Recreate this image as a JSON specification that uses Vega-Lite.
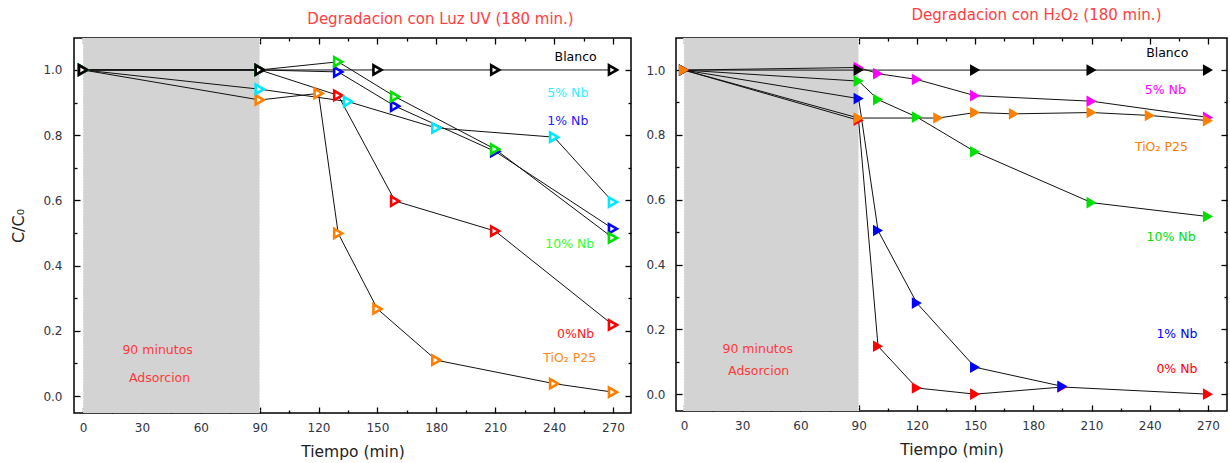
{
  "$schema": "https://vega.github.io/schema/vega-lite/v6.json",
  "background": "white",
  "padding": {"left": 10, "top": 7, "right": 0, "bottom": 0},
  "spacing": 12,
  "datasets": {
    "shade": [{"a": 0, "b": 90}],
    "edges": [{"a": 0}, {"a": 90}],
    "uv": [
      {"series": "TiO2 P25", "t": 0, "c": 1.0},
      {"series": "TiO2 P25", "t": 90, "c": 0.908},
      {"series": "TiO2 P25", "t": 120, "c": 0.928},
      {"series": "TiO2 P25", "t": 130, "c": 0.499},
      {"series": "TiO2 P25", "t": 150, "c": 0.267},
      {"series": "TiO2 P25", "t": 180, "c": 0.11},
      {"series": "TiO2 P25", "t": 240, "c": 0.038},
      {"series": "TiO2 P25", "t": 270, "c": 0.012},
      {"series": "0% Nb", "t": 0, "c": 1.0},
      {"series": "0% Nb", "t": 90, "c": 1.0},
      {"series": "0% Nb", "t": 130, "c": 0.922},
      {"series": "0% Nb", "t": 159, "c": 0.598},
      {"series": "0% Nb", "t": 210, "c": 0.506},
      {"series": "0% Nb", "t": 270, "c": 0.218},
      {"series": "5% Nb", "t": 0, "c": 1.0},
      {"series": "5% Nb", "t": 90, "c": 0.941},
      {"series": "5% Nb", "t": 135, "c": 0.903},
      {"series": "5% Nb", "t": 180, "c": 0.822},
      {"series": "5% Nb", "t": 240, "c": 0.794},
      {"series": "5% Nb", "t": 270, "c": 0.595},
      {"series": "1% Nb", "t": 0, "c": 1.0},
      {"series": "1% Nb", "t": 90, "c": 1.0},
      {"series": "1% Nb", "t": 130, "c": 0.994},
      {"series": "1% Nb", "t": 159, "c": 0.889},
      {"series": "1% Nb", "t": 210, "c": 0.75},
      {"series": "1% Nb", "t": 270, "c": 0.513},
      {"series": "10% Nb", "t": 0, "c": 1.0},
      {"series": "10% Nb", "t": 90, "c": 1.0},
      {"series": "10% Nb", "t": 130, "c": 1.025},
      {"series": "10% Nb", "t": 159, "c": 0.918},
      {"series": "10% Nb", "t": 210, "c": 0.757},
      {"series": "10% Nb", "t": 270, "c": 0.485},
      {"series": "Blanco", "t": 0, "c": 1.0},
      {"series": "Blanco", "t": 90, "c": 1.0},
      {"series": "Blanco", "t": 150, "c": 1.0},
      {"series": "Blanco", "t": 210, "c": 1.0},
      {"series": "Blanco", "t": 270, "c": 1.0}
    ],
    "uvLabels": [
      {"series": "Blanco", "label": "Blanco", "t": 251, "c": 1.04},
      {"series": "5% Nb", "label": "5% Nb", "t": 247, "c": 0.929},
      {"series": "1% Nb", "label": "1% Nb", "t": 247, "c": 0.844},
      {"series": "10% Nb", "label": "10% Nb", "t": 248, "c": 0.466},
      {"series": "0% Nb", "label": "0%Nb", "t": 251, "c": 0.19},
      {"series": "TiO2 P25", "label": "TiO₂ P25", "t": 248, "c": 0.117},
      {"series": "nota", "label": "90 minutos", "t": 38, "c": 0.141},
      {"series": "nota", "label": "Adsorcion", "t": 39, "c": 0.056}
    ],
    "h2o2": [
      {"series": "10% Nb", "t": 0, "c": 1.0},
      {"series": "10% Nb", "t": 90, "c": 0.966},
      {"series": "10% Nb", "t": 100, "c": 0.909},
      {"series": "10% Nb", "t": 120, "c": 0.855},
      {"series": "10% Nb", "t": 150, "c": 0.748},
      {"series": "10% Nb", "t": 210, "c": 0.591},
      {"series": "10% Nb", "t": 270, "c": 0.548},
      {"series": "5% Nb", "t": 0, "c": 1.0},
      {"series": "5% Nb", "t": 90, "c": 1.008},
      {"series": "5% Nb", "t": 100, "c": 0.989},
      {"series": "5% Nb", "t": 120, "c": 0.971},
      {"series": "5% Nb", "t": 150, "c": 0.921},
      {"series": "5% Nb", "t": 210, "c": 0.904},
      {"series": "5% Nb", "t": 270, "c": 0.854},
      {"series": "0% Nb", "t": 0, "c": 1.0},
      {"series": "0% Nb", "t": 90, "c": 0.845},
      {"series": "0% Nb", "t": 100, "c": 0.148},
      {"series": "0% Nb", "t": 120, "c": 0.019},
      {"series": "0% Nb", "t": 150, "c": 0.0},
      {"series": "0% Nb", "t": 195, "c": 0.022},
      {"series": "0% Nb", "t": 270, "c": 0.0},
      {"series": "1% Nb", "t": 0, "c": 1.0},
      {"series": "1% Nb", "t": 90, "c": 0.912},
      {"series": "1% Nb", "t": 100, "c": 0.505},
      {"series": "1% Nb", "t": 120, "c": 0.281},
      {"series": "1% Nb", "t": 150, "c": 0.083},
      {"series": "1% Nb", "t": 195, "c": 0.024},
      {"series": "Blanco", "t": 0, "c": 1.0},
      {"series": "Blanco", "t": 90, "c": 1.0},
      {"series": "Blanco", "t": 150, "c": 1.0},
      {"series": "Blanco", "t": 210, "c": 1.0},
      {"series": "Blanco", "t": 270, "c": 1.0},
      {"series": "TiO2 P25", "t": 0, "c": 1.0},
      {"series": "TiO2 P25", "t": 90, "c": 0.852},
      {"series": "TiO2 P25", "t": 131, "c": 0.852},
      {"series": "TiO2 P25", "t": 150, "c": 0.869},
      {"series": "TiO2 P25", "t": 170, "c": 0.865},
      {"series": "TiO2 P25", "t": 210, "c": 0.869},
      {"series": "TiO2 P25", "t": 240, "c": 0.86},
      {"series": "TiO2 P25", "t": 270, "c": 0.844}
    ],
    "h2o2Labels": [
      {"series": "Blanco", "label": "Blanco", "t": 249, "c": 1.054},
      {"series": "5% Nb", "label": "5% Nb", "t": 248, "c": 0.937},
      {"series": "TiO2 P25", "label": "TiO₂ P25", "t": 246, "c": 0.762},
      {"series": "10% Nb", "label": "10% Nb", "t": 251, "c": 0.484},
      {"series": "1% Nb", "label": "1% Nb", "t": 254, "c": 0.185},
      {"series": "0% Nb", "label": "0% Nb", "t": 254, "c": 0.077},
      {"series": "nota", "label": "90 minutos", "t": 38, "c": 0.139},
      {"series": "nota", "label": "Adsorcion", "t": 38.5, "c": 0.071}
    ]
  },
  "hconcat": [
    {
      "width": 557,
      "height": 375,
      "title": {"text": "Degradacion con Luz UV (180 min.)", "font": "DejaVu Sans", "fontSize": 15, "fontWeight": "normal", "color": "#ff4040", "anchor": "middle", "dx": 88, "offset": 10},
      "layer": [
        {
          "data": {"name": "shade"},
          "mark": {"type": "rect", "color": "#d3d3d3"},
          "encoding": {
            "x": {"field": "a", "type": "quantitative", "scale": {"domain": [-4.6, 279.2], "nice": false, "zero": false},
                  "axis": {"orient": "top", "values": [15, 45, 75, 105, 135, 165, 195, 225, 255], "offset": -3, "tickSize": 3, "labels": false, "title": null}},
            "x2": {"field": "b"},
            "y": {"datum": 1.098, "type": "quantitative", "scale": {"domain": [-0.052, 1.098], "nice": false, "zero": false},
                  "axis": {"orient": "right", "values": [0.1, 0.3, 0.5, 0.7, 0.9], "offset": -3, "tickSize": 3, "labels": false, "title": null}},
            "y2": {"datum": -0.052}
          }
        },
        {
          "data": {"name": "edges"},
          "mark": {"type": "rule", "color": "#f4f4f4", "strokeDash": [1, 2], "strokeWidth": 1.2},
          "encoding": {
            "x": {"field": "a", "type": "quantitative", "scale": {"domain": [-4.6, 279.2], "nice": false, "zero": false},
                  "axis": {"orient": "top", "values": [0, 30, 60, 90, 120, 150, 180, 210, 240, 270], "offset": -6, "tickSize": 6, "labels": false, "title": null}},
            "y": {"datum": 1.098, "type": "quantitative", "scale": {"domain": [-0.052, 1.098], "nice": false, "zero": false},
                  "axis": {"orient": "right", "values": [0, 0.2, 0.4, 0.6, 0.8, 1.0], "offset": -6, "tickSize": 6, "labels": false, "title": null}},
            "y2": {"datum": -0.052}
          }
        },
        {
          "data": {"name": "uv"},
          "mark": {"type": "line", "color": "#111111", "strokeWidth": 1},
          "encoding": {
            "x": {"field": "t", "type": "quantitative", "scale": {"domain": [-4.6, 279.2], "nice": false, "zero": false},
                  "axis": {"orient": "bottom", "values": [0, 30, 60, 90, 120, 150, 180, 210, 240, 270], "ticks": false, "labelPadding": 9, "title": "Tiempo (min)", "titleFontSize": 15.5, "titlePadding": 11}},
            "y": {"field": "c", "type": "quantitative", "scale": {"domain": [-0.052, 1.098], "nice": false, "zero": false},
                  "axis": {"orient": "left", "values": [0, 0.2, 0.4, 0.6, 0.8, 1.0], "format": ".1f", "ticks": false, "labelPadding": 12, "title": "C/C₀", "titleFontSize": 16, "titlePadding": 16}},
            "detail": {"field": "series"}
          }
        },
        {
          "data": {"name": "uv"},
          "mark": {"type": "point", "shape": "triangle-right", "size": 85, "fill": "white", "fillOpacity": 1, "strokeWidth": 2.6, "opacity": 1},
          "encoding": {
            "x": {"field": "t", "type": "quantitative", "scale": {"domain": [-4.6, 279.2], "nice": false, "zero": false},
                  "axis": {"orient": "bottom", "values": [0, 30, 60, 90, 120, 150, 180, 210, 240, 270], "offset": -6, "tickSize": 6, "labels": false, "title": null}},
            "y": {"field": "c", "type": "quantitative", "scale": {"domain": [-0.052, 1.098], "nice": false, "zero": false},
                  "axis": {"orient": "left", "values": [0, 0.2, 0.4, 0.6, 0.8, 1.0], "offset": -6, "tickSize": 6, "labels": false, "title": null}},
            "stroke": {"field": "series", "type": "nominal", "legend": null,
                       "scale": {"domain": ["Blanco", "0% Nb", "1% Nb", "5% Nb", "10% Nb", "TiO2 P25", "nota"], "range": ["#000000", "#ff0000", "#0000ff", "#00e8ff", "#00e000", "#ff8000", "#ff3a3a"]}}
          }
        },
        {
          "data": {"name": "uvLabels"},
          "mark": {"type": "text", "font": "DejaVu Sans", "fontSize": 12.5, "align": "center", "baseline": "middle"},
          "encoding": {
            "x": {"field": "t", "type": "quantitative", "scale": {"domain": [-4.6, 279.2], "nice": false, "zero": false},
                  "axis": {"orient": "bottom", "values": [15, 45, 75, 105, 135, 165, 195, 225, 255], "offset": -3, "tickSize": 3, "labels": false, "title": null}},
            "y": {"field": "c", "type": "quantitative", "scale": {"domain": [-0.052, 1.098], "nice": false, "zero": false},
                  "axis": {"orient": "left", "values": [0.1, 0.3, 0.5, 0.7, 0.9], "offset": -3, "tickSize": 3, "labels": false, "title": null}},
            "text": {"field": "label"},
            "color": {"field": "series", "type": "nominal", "legend": null,
                      "scale": {"domain": ["Blanco", "0% Nb", "1% Nb", "5% Nb", "10% Nb", "TiO2 P25", "nota"], "range": ["#000000", "#ff2020", "#2020ff", "#30f0ff", "#30ff30", "#ff8c1a", "#ff3a3a"]}}
          }
        }
      ],
      "resolve": {"axis": {"x": "independent", "y": "independent"}}
    },
    {
      "width": 551,
      "height": 373,
      "title": {"text": "Degradacion con H₂O₂ (180 min.)", "font": "DejaVu Sans", "fontSize": 15, "fontWeight": "normal", "color": "#ff4040", "anchor": "middle", "dx": 85, "offset": 14},
      "layer": [
        {
          "data": {"name": "shade"},
          "mark": {"type": "rect", "color": "#d3d3d3"},
          "encoding": {
            "x": {"field": "a", "type": "quantitative", "scale": {"domain": [-4.1, 279.8], "nice": false, "zero": false},
                  "axis": {"orient": "top", "values": [15, 45, 75, 105, 135, 165, 195, 225, 255], "offset": -3, "tickSize": 3, "labels": false, "title": null}},
            "x2": {"field": "b"},
            "y": {"datum": 1.099, "type": "quantitative", "scale": {"domain": [-0.052, 1.099], "nice": false, "zero": false},
                  "axis": {"orient": "right", "values": [0.1, 0.3, 0.5, 0.7, 0.9], "offset": -3, "tickSize": 3, "labels": false, "title": null}},
            "y2": {"datum": -0.052}
          }
        },
        {
          "data": {"name": "edges"},
          "mark": {"type": "rule", "color": "#f4f4f4", "strokeDash": [1, 2], "strokeWidth": 1.2},
          "encoding": {
            "x": {"field": "a", "type": "quantitative", "scale": {"domain": [-4.1, 279.8], "nice": false, "zero": false},
                  "axis": {"orient": "top", "values": [0, 30, 60, 90, 120, 150, 180, 210, 240, 270], "offset": -6, "tickSize": 6, "labels": false, "title": null}},
            "y": {"datum": 1.099, "type": "quantitative", "scale": {"domain": [-0.052, 1.099], "nice": false, "zero": false},
                  "axis": {"orient": "right", "values": [0, 0.2, 0.4, 0.6, 0.8, 1.0], "offset": -6, "tickSize": 6, "labels": false, "title": null}},
            "y2": {"datum": -0.052}
          }
        },
        {
          "data": {"name": "h2o2"},
          "mark": {"type": "line", "color": "#111111", "strokeWidth": 1},
          "encoding": {
            "x": {"field": "t", "type": "quantitative", "scale": {"domain": [-4.1, 279.8], "nice": false, "zero": false},
                  "axis": {"orient": "bottom", "values": [0, 30, 60, 90, 120, 150, 180, 210, 240, 270], "ticks": false, "labelPadding": 9, "title": "Tiempo (min)", "titleFontSize": 15.5, "titlePadding": 11}},
            "y": {"field": "c", "type": "quantitative", "scale": {"domain": [-0.052, 1.099], "nice": false, "zero": false},
                  "axis": {"orient": "left", "values": [0, 0.2, 0.4, 0.6, 0.8, 1.0], "format": ".1f", "ticks": false, "labelPadding": 11, "title": null}},
            "detail": {"field": "series"}
          }
        },
        {
          "data": {"name": "h2o2"},
          "mark": {"type": "point", "shape": "triangle-right", "size": 135, "filled": true, "opacity": 1},
          "encoding": {
            "x": {"field": "t", "type": "quantitative", "scale": {"domain": [-4.1, 279.8], "nice": false, "zero": false},
                  "axis": {"orient": "bottom", "values": [0, 30, 60, 90, 120, 150, 180, 210, 240, 270], "offset": -6, "tickSize": 6, "labels": false, "title": null}},
            "y": {"field": "c", "type": "quantitative", "scale": {"domain": [-0.052, 1.099], "nice": false, "zero": false},
                  "axis": {"orient": "left", "values": [0, 0.2, 0.4, 0.6, 0.8, 1.0], "offset": -6, "tickSize": 6, "labels": false, "title": null}},
            "color": {"field": "series", "type": "nominal", "legend": null,
                      "scale": {"domain": ["Blanco", "0% Nb", "1% Nb", "5% Nb", "10% Nb", "TiO2 P25", "nota"], "range": ["#000000", "#ff0000", "#0000ff", "#ff00ff", "#00e000", "#ff8000", "#ff3a3a"]}}
          }
        },
        {
          "data": {"name": "h2o2Labels"},
          "mark": {"type": "text", "font": "DejaVu Sans", "fontSize": 12.5, "align": "center", "baseline": "middle"},
          "encoding": {
            "x": {"field": "t", "type": "quantitative", "scale": {"domain": [-4.1, 279.8], "nice": false, "zero": false},
                  "axis": {"orient": "bottom", "values": [15, 45, 75, 105, 135, 165, 195, 225, 255], "offset": -3, "tickSize": 3, "labels": false, "title": null}},
            "y": {"field": "c", "type": "quantitative", "scale": {"domain": [-0.052, 1.099], "nice": false, "zero": false},
                  "axis": {"orient": "left", "values": [0.1, 0.3, 0.5, 0.7, 0.9], "offset": -3, "tickSize": 3, "labels": false, "title": null}},
            "text": {"field": "label"},
            "color": {"field": "series", "type": "nominal", "legend": null,
                      "scale": {"domain": ["Blanco", "0% Nb", "1% Nb", "5% Nb", "10% Nb", "TiO2 P25", "nota"], "range": ["#000000", "#ff2020", "#2020ff", "#ff30ff", "#30ff30", "#ff8c1a", "#ff3a3a"]}}
          }
        }
      ],
      "resolve": {"axis": {"x": "independent", "y": "independent"}}
    }
  ],
  "resolve": {"scale": {"color": "independent", "stroke": "independent"}},
  "config": {
    "view": {"stroke": "#000000", "strokeWidth": 1.5},
    "axis": {
      "domain": false,
      "grid": false,
      "tickColor": "#000000",
      "tickWidth": 1.3,
      "labelFont": "DejaVu Sans",
      "labelFontSize": 12,
      "labelColor": "#333344",
      "labelFlush": false,
      "labelOverlap": false,
      "titleFont": "DejaVu Sans",
      "titleFontWeight": "normal",
      "titleColor": "#222222"
    }
  }
}
